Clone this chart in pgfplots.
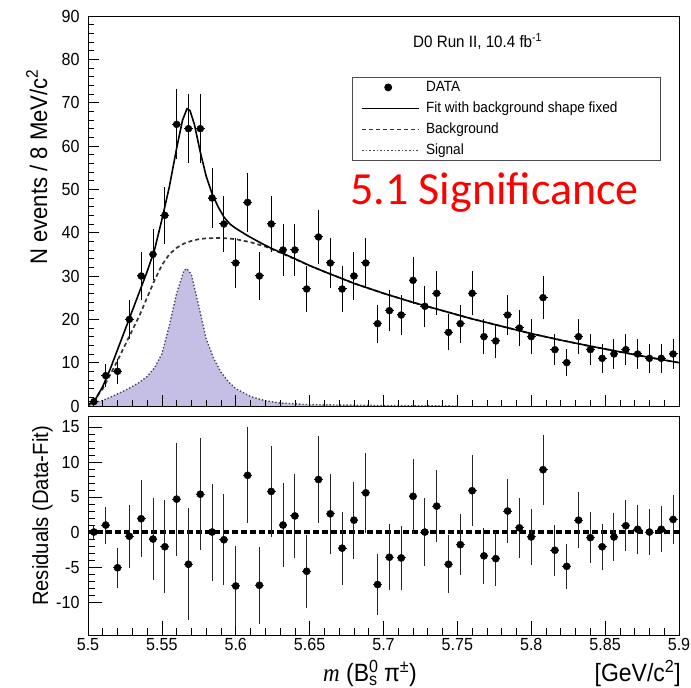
\documentclass[border=0pt]{standalone}
\usepackage{fontspec}
\setmainfont{Liberation Sans}[FakeStretch=0.92]
\newfontfamily\carlito{Carlito}
\newfontfamily\serifit{Liberation Serif}[FakeStretch=0.92]
\usepackage{pgfplots}
\usepackage{pgfplotstable}
\pgfplotsset{compat=1.18}
\definecolor{sigfill}{RGB}{197,191,229}
\definecolor{sigline}{RGB}{70,70,95}

\pgfplotstableread{
x y ey
5.504 1 1
5.512 7 2.646
5.520 8 2.828
5.528 20 4.472
5.536 30 5.477
5.544 35 5.916
5.552 44 6.633
5.560 65 8.062
5.568 64 8
5.576 64 8
5.584 48 6.928
5.592 42 6.481
5.600 33 5.745
5.608 47 6.856
5.616 30 5.477
5.624 42 6.481
5.632 36 6
5.640 36 6
5.648 27 5.196
5.656 39 6.245
5.664 33 5.745
5.672 27 5.196
5.680 30 5.477
5.688 33 5.745
5.696 19 4.359
5.704 22 4.690
5.712 21 4.583
5.720 29 5.385
5.728 23 4.796
5.736 26 5.099
5.744 17 4.123
5.752 19 4.359
5.760 26 5.099
5.768 16 4
5.776 15 3.873
5.784 21 4.583
5.792 18 4.243
5.800 16 4
5.808 25 5
5.816 13 3.606
5.824 10 3.162
5.832 16 4
5.840 13 3.606
5.848 11 3.317
5.856 12 3.464
5.864 13 3.606
5.872 12 3.464
5.880 11 3.317
5.888 11 3.317
5.896 12 3.464
}\datatop

\pgfplotstableread{
x r er
5.504 0.0 1
5.512 1.0 2.646
5.520 -5.1 2.828
5.528 -0.6 4.472
5.536 1.9 5.477
5.544 -1.0 5.916
5.552 -2.1 6.633
5.560 4.7 8.062
5.568 -4.6 8
5.576 5.4 8
5.584 0.0 6.928
5.592 -1.1 6.481
5.600 -7.7 5.745
5.608 8.1 6.856
5.616 -7.6 5.477
5.624 5.8 6.481
5.632 1.0 6
5.640 2.3 6
5.648 -5.6 5.196
5.656 7.5 6.245
5.664 2.6 5.745
5.672 -2.3 5.196
5.680 1.7 5.477
5.688 5.6 5.745
5.696 -7.5 4.359
5.704 -3.6 4.690
5.712 -3.7 4.583
5.720 5.1 5.385
5.728 0.0 4.796
5.736 3.7 5.099
5.744 -4.6 4.123
5.752 -1.8 4.359
5.760 5.9 5.099
5.768 -3.4 4
5.776 -3.8 3.873
5.784 3.0 4.583
5.792 0.6 4.243
5.800 -0.7 4
5.808 8.9 5
5.816 -2.6 3.606
5.824 -4.9 3.162
5.832 1.7 4
5.840 -0.8 3.606
5.848 -2.1 3.317
5.856 -0.7 3.464
5.864 0.9 3.606
5.872 0.4 3.464
5.880 0.0 3.317
5.888 0.4 3.317
5.896 1.8 3.464
}\datares

\pgfplotstableread{
x y
5.500 0.2
5.505 1.5
5.510 4.5
5.515 8.5
5.520 13
5.525 17.5
5.530 22
5.535 26.5
5.540 31
5.545 36
5.550 43
5.555 50.5
5.560 59.5
5.564 66
5.567 68.6
5.569 68.2
5.572 65
5.576 58.6
5.580 53
5.584 49
5.588 46
5.592 43.6
5.596 42
5.600 41
5.608 39.3
5.616 37.8
5.624 36.4
5.632 35.2
5.640 34.0
5.650 32.4
5.660 31.0
5.680 28.3
5.700 26.0
5.720 23.9
5.740 22.0
5.760 20.1
5.780 18.4
5.800 16.7
5.820 15.2
5.840 13.8
5.860 12.5
5.880 11.2
5.900 10.0
}\datafit

\pgfplotstableread{
x y
5.500 0
5.505 1.8
5.510 4
5.515 7.2
5.520 10.5
5.525 14
5.530 17.5
5.535 21
5.540 25
5.545 29
5.550 32.5
5.555 35
5.560 36.5
5.565 37.5
5.570 38.1
5.575 38.5
5.580 38.7
5.590 38.8
5.600 38.5
5.610 37.8
5.620 36.8
5.630 35.4
5.640 33.9
5.650 32.4
5.660 31.0
5.680 28.3
5.700 26.0
5.720 23.9
5.740 22.0
5.760 20.1
5.780 18.4
5.800 16.7
5.820 15.2
5.840 13.8
5.860 12.5
5.880 11.2
5.900 10.0
}\databkg

\pgfplotstableread{
x y
5.500 0.5
5.505 0.8
5.510 1.3
5.515 2.0
5.520 2.8
5.525 3.6
5.530 4.5
5.535 5.5
5.540 6.8
5.545 8.8
5.550 12.0
5.555 18.5
5.560 26.0
5.565 31.3
5.567 31.7
5.570 30.3
5.575 23.0
5.580 15.5
5.585 11.0
5.590 7.8
5.595 5.6
5.600 4.0
5.610 2.2
5.620 1.2
5.630 0.7
5.650 0.3
5.700 0.1
5.750 0.0
}\datasig

\begin{document}
\begin{tikzpicture}
\useasboundingbox (0pt,0pt) rectangle (691pt,688pt);

% ---------------- top panel ----------------
\begin{axis}[
  name=top,
  at={(88pt,282pt)}, anchor=south west,
  width=591pt, height=390pt, scale only axis,
  xmin=5.5, xmax=5.9, ymin=0, ymax=90,
  xtick={5.5,5.55,5.6,5.65,5.7,5.75,5.8,5.85,5.9}, xticklabels={},
  minor x tick num=4,
  ytick={0,10,20,30,40,50,60,70,80,90},
  yticklabels={0,10,20,30,40,50,60,70,80,90},
  minor y tick num=4,
  tick pos=left, tick align=inside,
  major tick length=11pt, minor tick length=6pt,
  axis line style={line width=0.8pt},
  every tick/.style={black, line width=0.7pt},
  yticklabel style={font=\fontsize{17.5}{20}\selectfont, xshift=-5pt},
  axis on top,
  legend style={at={(0.4467,0.8436)}, anchor=north west,
    draw=black!70, line width=0.8pt, fill=white,
    font=\fontsize{14.8}{17}\selectfont,
    nodes={text height=11pt, text depth=3pt, inner sep=2pt},
    row sep=3pt, column sep=4pt, inner xsep=9pt, inner ysep=1pt},
  legend cell align=left,
]
\addplot[fill=sigfill, draw=none, forget plot] table {\datasig} \closedcycle;
\addplot[sigline, line width=1.4pt, dotted, forget plot] table {\datasig};
\addplot[black!80, line width=1.7pt, dash pattern=on 4pt off 3pt, forget plot] table {\databkg};
\addplot[black, line width=1.6pt, forget plot] table {\datafit};
\addplot[only marks, mark=*, mark size=3.5pt, black, forget plot,
  error bars/.cd, y dir=both, y explicit, x dir=both, x fixed=0.003,
  error mark=none, error bar style={line width=1pt, black}]
  table[x=x, y=y, y error=ey] {\datatop};

\addlegendimage{legend image code/.code={\fill[black] (26pt,0pt) circle (3.5pt); \path (0pt,0pt) (57pt,0pt);}}
\addlegendentry{DATA}
\addlegendimage{legend image code/.code={\draw[black,line width=1.6pt] (0pt,0pt)--(57pt,0pt);}}
\addlegendentry{Fit with background shape fixed\hspace*{32pt}}
\addlegendimage{legend image code/.code={\draw[black!80,line width=1.6pt,dash pattern=on 4pt off 3pt] (0pt,0pt)--(57pt,0pt);}}
\addlegendentry{Background}
\addlegendimage{legend image code/.code={\draw[sigline,line width=1.6pt,dotted] (0pt,0pt)--(57pt,0pt);}}
\addlegendentry{Signal}
\end{axis}

% ---------------- bottom panel ----------------
\begin{axis}[
  at={(88pt,53pt)}, anchor=south west,
  width=591pt, height=218.5pt, scale only axis,
  xmin=5.5, xmax=5.9, ymin=-14.7, ymax=16.5,
  xtick={5.5,5.55,5.6,5.65,5.7,5.75,5.8,5.85,5.9},
  xticklabels={5.5,5.55,5.6,5.65,5.7,5.75,5.8,5.85,5.9},
  minor x tick num=4,
  ytick={-10,-5,0,5,10,15},
  yticklabels={-10,-5,0,5,10,15},
  minor y tick num=4,
  tick pos=left, tick align=inside,
  major tick length=14pt, minor tick length=7pt,
  axis line style={line width=0.8pt},
  every tick/.style={black, line width=0.7pt},
  yticklabel style={font=\fontsize{17.5}{20}\selectfont, xshift=-5pt},
  xticklabel style={font=\fontsize{17.5}{20}\selectfont},
]
\addplot[black, line width=3.2pt, dash pattern=on 6pt off 3pt] coordinates {(5.5,0) (5.9,0)};
\addplot[only marks, mark=*, mark size=3.6pt, black,
  error bars/.cd, y dir=both, y explicit, x dir=both, x fixed=0.003,
  error mark=none, error bar style={line width=1pt, black!85}]
  table[x=x, y=r, y error=er] {\datares};
\end{axis}

% ---------------- texts ----------------
\node[anchor=base west, inner sep=0pt, font=\fontsize{16.5}{18}\selectfont] at (413pt,640pt) {D0 Run II, 10.4 fb\textsuperscript{-1}};
\node[anchor=base west, inner sep=0pt, text=red, font=\carlito\fontsize{46}{50}\selectfont] at (350pt,483pt) {5.1 Significance};
\node[rotate=90, anchor=base, inner sep=0pt, font=\fontsize{24}{28}\selectfont] at (47pt,521pt) {N events / 8 MeV/c\textsuperscript{2}};
\node[rotate=90, anchor=base, inner sep=0pt, font=\fontsize{22}{26}\selectfont] at (48pt,172pt) {Residuals (Data-Fit)};
\node[anchor=base, inner sep=0pt, font=\fontsize{25}{28}\selectfont] at (370pt,6pt) {{\serifit\itshape m} (B\rlap{\textsuperscript{0}}\textsubscript{s} π\textsuperscript{±})};
\node[anchor=base east, inner sep=0pt, font=\fontsize{25}{28}\selectfont] at (681pt,6pt) {[GeV/c\textsuperscript{2}]};
\end{tikzpicture}
\end{document}
